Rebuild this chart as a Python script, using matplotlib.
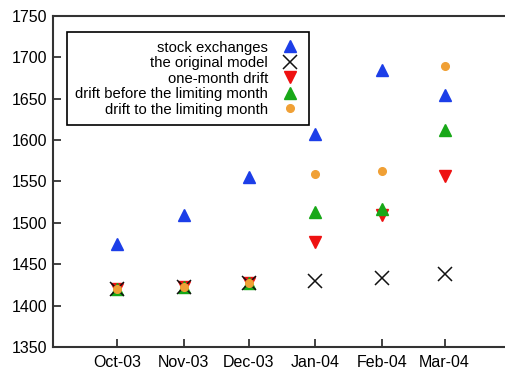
import datetime as dt
import matplotlib
matplotlib.use("Agg")
import matplotlib.pyplot as plt
import matplotlib.dates as mdates

plt.rcParams['font.family'] = ['Liberation Sans', 'DejaVu Sans']

months = [dt.date(2003, 10, 1), dt.date(2003, 11, 1), dt.date(2003, 12, 1),
          dt.date(2004, 1, 1), dt.date(2004, 2, 1), dt.date(2004, 3, 1)]
stock = [1475, 1510, 1555, 1607, 1685, 1655]
original = [1420, 1423, 1427, 1430, 1434, 1438]
one_month = [1420, 1423, 1427, 1477, 1510, 1557]
before_limit = [1420, 1423, 1427, 1513, 1517, 1612]
to_limit = [1420, 1423, 1427, 1559, 1563, 1690]

fig = plt.figure(figsize=(5.05, 3.7), dpi=100)
ax = fig.add_axes([0.104, 0.062, 0.915, 0.895])

h_stock, = ax.plot(months, stock, ls='none', marker='^', ms=9, color='#1c3ee8', label='stock exchanges', zorder=3)
h_red, = ax.plot(months, one_month, ls='none', marker='v', ms=9, color='#ee1111', label='one-month drift', zorder=3)
h_green, = ax.plot(months, before_limit, ls='none', marker='^', ms=9, color='#18a818', label='drift before the limiting month', zorder=4)
h_orig, = ax.plot(months, original, ls='none', marker='x', ms=10, mew=1.1, color='#111111', label='the original model', zorder=5)
h_orange, = ax.plot(months, to_limit, ls='none', marker='o', ms=5.5, color='#f0a035', label='drift to the limiting month', zorder=6)

ax.set_ylim(1350, 1750)
ax.set_yticks(range(1350, 1751, 50))
ax.set_xlim(dt.datetime(2003, 9, 1), dt.datetime(2004, 4, 2, 12))
ax.set_xticks(months)
ax.xaxis.set_major_formatter(mdates.DateFormatter('%b-%y'))

ax.tick_params(direction='in', length=6, width=1.2, labelsize=11.5, color='#222222')
ax.tick_params(axis='y', pad=4)
ax.tick_params(axis='x', pad=6)
for s in ax.spines.values():
    s.set_linewidth(1.5)
    s.set_color('#333333')

handles = [h_stock, h_orig, h_red, h_green, h_orange]
leg = ax.legend(handles=handles, loc='upper left', bbox_to_anchor=(0.031, 0.95), markerfirst=False,
                fontsize=10.7, fancybox=False, framealpha=1, edgecolor='black',
                handlelength=1.4, handletextpad=0.8, labelspacing=0.1,
                borderpad=0.55, borderaxespad=0)
leg.get_frame().set_linewidth(1.2)
for t in leg.get_texts():
    t.set_ha('right')

fig.savefig('out.png', dpi=100)
